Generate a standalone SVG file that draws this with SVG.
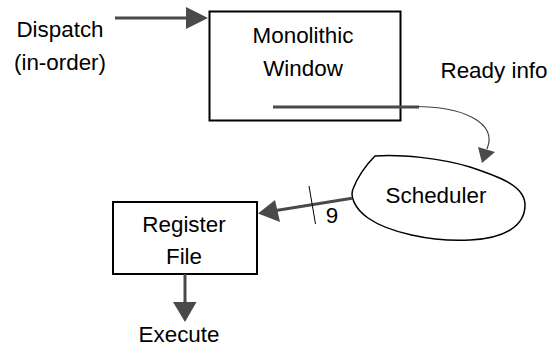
<svg xmlns="http://www.w3.org/2000/svg" width="559" height="347" viewBox="0 0 559 347">
<style>
.t{font-family:"Liberation Sans",Arial,sans-serif;font-size:22.4px;fill:#000;text-anchor:middle}
.box{fill:#fff;stroke:#000;stroke-width:2}
.arr{stroke:#4a4a4a;stroke-width:3;fill:none}
.head{fill:#4a4a4a;stroke:none}
.thin{stroke:#444;stroke-width:1.2;fill:none}
</style>
<rect width="559" height="347" fill="#fff"/>
<g id="dispatch">
<text class="t" x="60" y="37">Dispatch</text>
<text class="t" x="60" y="70">(in-order)</text>
</g>
<g id="window">
<rect class="box" x="209.5" y="11.5" width="191" height="109"/>
<text class="t" x="303" y="43">Monolithic</text>
<text class="t" x="303" y="76">Window</text>
</g>
<g id="ready">
<text class="t" x="494" y="78">Ready info</text>
</g>
<g id="scheduler">
<path d="M375 156 C400 154 440 158 470 167 C500 177 525 186 525 205 C525 226 505 238 470 240 C430 242 388 232 368 218 C354 208 350 196 353 189 C358 176 366 165 375 156 Z" fill="#fff" stroke="#000" stroke-width="1.5"/>
<text class="t" x="436" y="203">Scheduler</text>
</g>
<g id="regfile">
<rect class="box" x="113" y="202" width="144" height="72"/>
<text class="t" x="184" y="232">Register</text>
<text class="t" x="184" y="264">File</text>
</g>
<g id="execute">
<text class="t" x="179" y="342">Execute</text>
</g>
<g id="connectors">
<line class="arr" x1="115" y1="18" x2="187" y2="18"/>
<polygon class="head" points="186,7 208,18 186,29"/>
<line class="arr" x1="273" y1="107" x2="419" y2="107"/>
<path class="thin" d="M412 106.5 C462 106 498 122 487 149"/>
<polygon class="head" points="478,147 495,152 482,163"/>
<line class="arr" x1="352" y1="198.3" x2="276" y2="210.5"/>
<polygon class="head" points="275,200 280,222 258,213.5"/>
<line x1="309" y1="186" x2="315.5" y2="224" stroke="#000" stroke-width="1"/>
<text class="t" x="332" y="223">9</text>
<line class="arr" x1="185" y1="274" x2="185" y2="303"/>
<polygon class="head" points="173,302 196.5,302 185,322"/>
</g>
</svg>
